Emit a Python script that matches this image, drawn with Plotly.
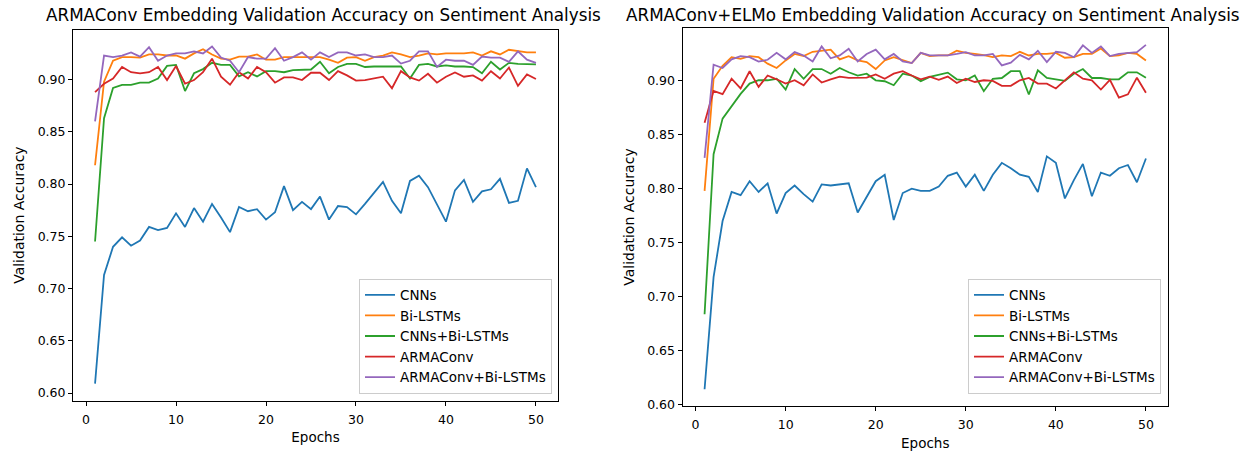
import plotly.graph_objects as go

epochs = list(range(1, 51))
series_names = ["CNNs", "Bi-LSTMs", "CNNs+Bi-LSTMs", "ARMAConv", "ARMAConv+Bi-LSTMs"]
colors = ["#1f77b4", "#ff7f0e", "#2ca02c", "#d62728", "#9467bd"]

# Left panel: ARMAConv embedding
cnn_l = [0.609, 0.713, 0.740, 0.749, 0.741, 0.746, 0.759, 0.756, 0.758, 0.772,
         0.759, 0.777, 0.764, 0.781, 0.768, 0.754, 0.778, 0.774, 0.776, 0.766,
         0.773, 0.798, 0.775, 0.783, 0.776, 0.788, 0.766, 0.779, 0.778, 0.771,
         0.781, 0.791, 0.802, 0.784, 0.772, 0.803, 0.808, 0.797, 0.781, 0.764,
         0.794, 0.804, 0.783, 0.793, 0.795, 0.805, 0.782, 0.784, 0.815, 0.797]
bilstm_l = [0.818, 0.898, 0.918, 0.9215, 0.9215, 0.921, 0.924, 0.924, 0.923, 0.923,
            0.920, 0.925, 0.929, 0.924, 0.920, 0.919, 0.922, 0.922, 0.924, 0.919,
            0.919, 0.9215, 0.9215, 0.9215, 0.9215, 0.9215, 0.919, 0.916, 0.921, 0.9215,
            0.918, 0.9215, 0.923, 0.926, 0.924, 0.9215, 0.923, 0.925, 0.924, 0.925,
            0.925, 0.925, 0.926, 0.923, 0.927, 0.924, 0.9285, 0.927, 0.926, 0.926]
cnn_bilstm_l = [0.745, 0.863, 0.892, 0.895, 0.895, 0.897, 0.897, 0.901, 0.913, 0.914,
                0.889, 0.906, 0.910, 0.916, 0.914, 0.914, 0.903, 0.907, 0.903, 0.908,
                0.908, 0.907, 0.909, 0.9096, 0.9096, 0.917, 0.906, 0.912, 0.915, 0.915,
                0.912, 0.9125, 0.9125, 0.912, 0.9125, 0.901, 0.914, 0.915, 0.9125, 0.9135,
                0.9125, 0.9125, 0.912, 0.906, 0.917, 0.9096, 0.916, 0.915, 0.9148, 0.9146]
arma_l = [0.888, 0.896, 0.901, 0.912, 0.907, 0.906, 0.907, 0.912, 0.8995, 0.913,
          0.896, 0.8995, 0.907, 0.920, 0.9027, 0.895, 0.907, 0.901, 0.912, 0.907,
          0.897, 0.902, 0.902, 0.8995, 0.9065, 0.9065, 0.8995, 0.908, 0.904, 0.899,
          0.8995, 0.901, 0.9027, 0.8917, 0.908, 0.902, 0.899, 0.9055, 0.897, 0.9027,
          0.9068, 0.9027, 0.904, 0.899, 0.908, 0.901, 0.9115, 0.894, 0.905, 0.9005]
arma_bilstm_l = [0.860, 0.923, 0.9215, 0.923, 0.926, 0.922, 0.931, 0.918, 0.923, 0.925,
                 0.925, 0.927, 0.925, 0.9316, 0.921, 0.918, 0.907, 0.9215, 0.920, 0.920,
                 0.930, 0.918, 0.9215, 0.926, 0.919, 0.926, 0.9215, 0.926, 0.926, 0.923,
                 0.924, 0.9215, 0.9215, 0.923, 0.9153, 0.918, 0.927, 0.927, 0.912, 0.919,
                 0.918, 0.918, 0.914, 0.922, 0.921, 0.921, 0.917, 0.927, 0.919, 0.916]

# Right panel: ARMAConv+ELMo embedding
cnn_r = [0.614, 0.718, 0.770, 0.797, 0.794, 0.807, 0.797, 0.805, 0.777, 0.796,
         0.803, 0.795, 0.788, 0.804, 0.803, 0.804, 0.805, 0.778, 0.793, 0.807,
         0.813, 0.771, 0.796, 0.800, 0.798, 0.798, 0.802, 0.812, 0.815, 0.802,
         0.813, 0.798, 0.813, 0.824, 0.819, 0.813, 0.811, 0.797, 0.830, 0.824,
         0.791, 0.808, 0.823, 0.793, 0.815, 0.812, 0.819, 0.822, 0.806, 0.828]
bilstm_r = [0.798, 0.902, 0.914, 0.922, 0.9205, 0.923, 0.922, 0.916, 0.912, 0.919,
            0.925, 0.923, 0.927, 0.928, 0.929, 0.920, 0.923, 0.919, 0.9175, 0.911,
            0.919, 0.922, 0.919, 0.9166, 0.926, 0.923, 0.9236, 0.9236, 0.928, 0.926,
            0.925, 0.924, 0.922, 0.9236, 0.923, 0.927, 0.9236, 0.925, 0.925, 0.926,
            0.9215, 0.922, 0.925, 0.925, 0.930, 0.923, 0.9236, 0.926, 0.925, 0.919]
cnn_bilstm_r = [0.6835, 0.832, 0.865, 0.876, 0.888, 0.8975, 0.9006, 0.9006, 0.902, 0.892,
                0.911, 0.902, 0.911, 0.911, 0.9067, 0.912, 0.908, 0.905, 0.9067, 0.9006,
                0.8997, 0.896, 0.9067, 0.905, 0.8997, 0.9037, 0.906, 0.9077, 0.9015, 0.9006,
                0.905, 0.8905, 0.902, 0.9027, 0.909, 0.909, 0.8874, 0.9098, 0.9027, 0.9012,
                0.900, 0.9067, 0.911, 0.9027, 0.9027, 0.9015, 0.9015, 0.908, 0.908, 0.903]
arma_r = [0.8613, 0.8908, 0.8877, 0.902, 0.893, 0.909, 0.8945, 0.905, 0.9015, 0.8975,
          0.9006, 0.896, 0.906, 0.8985, 0.9015, 0.904, 0.9028, 0.9028, 0.9031, 0.906,
          0.902, 0.9067, 0.909, 0.905, 0.9015, 0.904, 0.901, 0.904, 0.898, 0.902,
          0.899, 0.9006, 0.900, 0.8954, 0.8954, 0.9006, 0.9028, 0.8975, 0.8975, 0.893,
          0.9006, 0.908, 0.902, 0.9006, 0.892, 0.901, 0.8845, 0.8875, 0.903, 0.889]
arma_bilstm_r = [0.8286, 0.915, 0.912, 0.920, 0.923, 0.922, 0.918, 0.9196, 0.926, 0.920,
                 0.9267, 0.9236, 0.918, 0.932, 0.921, 0.9236, 0.9298, 0.918, 0.925, 0.929,
                 0.920, 0.925, 0.918, 0.9166, 0.926, 0.9236, 0.9236, 0.9236, 0.925, 0.9267,
                 0.9236, 0.9236, 0.925, 0.9144, 0.917, 0.9242, 0.920, 0.928, 0.9175, 0.927,
                 0.926, 0.922, 0.933, 0.926, 0.932, 0.923, 0.925, 0.926, 0.9267, 0.9334]

left_series = [cnn_l, bilstm_l, cnn_bilstm_l, arma_l, arma_bilstm_l]
right_series = [cnn_r, bilstm_r, cnn_bilstm_r, arma_r, arma_bilstm_r]

titles = ["ARMAConv Embedding Validation Accuracy on Sentiment Analysis",
          "ARMAConv+ELMo Embedding Validation Accuracy on Sentiment Analysis"]

W, H = 1251, 453
FONT = "DejaVu Sans"

fig = go.Figure()
for i, (name, ys) in enumerate(zip(series_names, left_series)):
    fig.add_trace(go.Scatter(x=epochs, y=ys, mode="lines", name=name,
                             line=dict(color=colors[i], width=1.8),
                             xaxis="x", yaxis="y", legend="legend"))
for i, (name, ys) in enumerate(zip(series_names, right_series)):
    fig.add_trace(go.Scatter(x=epochs, y=ys, mode="lines", name=name,
                             line=dict(color=colors[i], width=1.8),
                             xaxis="x2", yaxis="y2", legend="legend2"))


def auto_range(groups):
    vals = [v for g in groups for v in g]
    lo, hi = min(vals), max(vals)
    pad = 0.05 * (hi - lo)
    return [lo - pad, hi + pad]


xr = [1 - 0.05 * 49, 50 + 0.05 * 49]
x_dom_l = [73 / W, 558 / W]
x_dom_r = [682.5 / W, 1168 / W]
y_dom_l = [1 - 405 / H, 1 - 30 / H]
y_dom_r = [1 - 411 / H, 1 - 28 / H]

axis_common = dict(showline=True, linecolor="black", linewidth=1, mirror=True,
                   ticks="outside", ticklen=4, tickwidth=1, tickcolor="black",
                   showgrid=False, zeroline=False,
                   tickfont=dict(family=FONT, size=12.5, color="black"))
xtitle = dict(text="Epochs", font=dict(family=FONT, size=13.5), standoff=7)
ytitle = dict(text="Validation Accuracy", font=dict(family=FONT, size=14), standoff=9)

fig.update_layout(
    width=W, height=H,
    margin=dict(l=0, r=0, t=0, b=0),
    paper_bgcolor="white", plot_bgcolor="white",
    font=dict(family=FONT, color="black"),
    xaxis=dict(domain=x_dom_l, range=xr, dtick=10, tick0=0, anchor="y",
               ticklabelstandoff=3, title=xtitle, **axis_common),
    yaxis=dict(domain=y_dom_l, range=auto_range(left_series), dtick=0.05, tick0=0,
               tickformat=".2f", anchor="x", title=ytitle, **axis_common),
    xaxis2=dict(domain=x_dom_r, range=xr, dtick=10, tick0=0, anchor="y2",
                ticklabelstandoff=3, title=xtitle, **axis_common),
    yaxis2=dict(domain=y_dom_r, range=auto_range(right_series), dtick=0.05, tick0=0,
                tickformat=".2f", anchor="x2", title=ytitle, **axis_common),
    legend=dict(x=552 / W, y=1 - 398 / H, xanchor="right", yanchor="bottom",
                bgcolor="rgba(255,255,255,0.8)", bordercolor="#cccccc", borderwidth=1,
                font=dict(family=FONT, size=13.5, color="black"), itemwidth=30,
                tracegroupgap=0),
    legend2=dict(x=1161 / W, y=1 - 398 / H, xanchor="right", yanchor="bottom",
                 bgcolor="rgba(255,255,255,0.8)", bordercolor="#cccccc", borderwidth=1,
                 font=dict(family=FONT, size=13.5, color="black"), itemwidth=30,
                 tracegroupgap=0),
    showlegend=True,
)

for dom, t in zip([x_dom_l, x_dom_r], titles):
    fig.add_annotation(text=t, xref="paper", yref="paper",
                       x=(dom[0] + dom[1]) / 2 + 8 / W, y=1 - 15 / H,
                       xanchor="center", yanchor="middle", showarrow=False,
                       font=dict(family=FONT, size=16.8, color="black"))

fig.write_html("out.html")
